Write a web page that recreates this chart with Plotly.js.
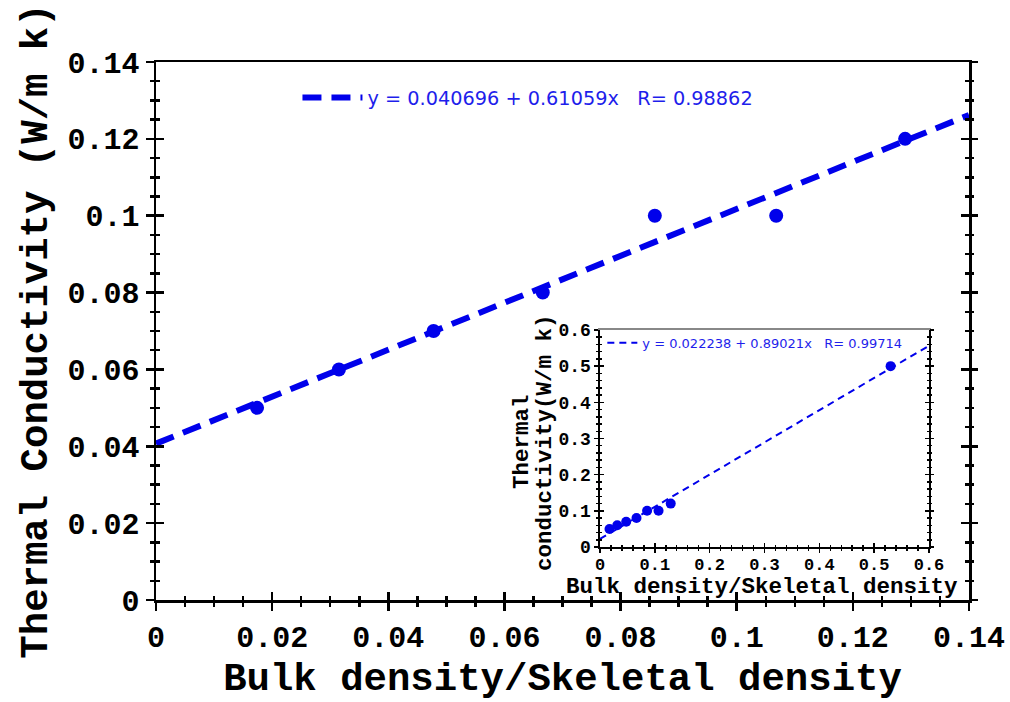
<!DOCTYPE html>
<html>
<head>
<meta charset="utf-8">
<script src="https://cdn.plot.ly/plotly-3.0.1.min.js"></script>
<style>html,body{margin:0;padding:0;background:#fff;}#chart{width:1010px;height:702px;}</style>
</head>
<body>
<div id="chart"></div>
<script>
// ---- Data ----
const density = [0.0174, 0.0315, 0.0478, 0.0666, 0.0859, 0.1068, 0.1290];
const conductivity = [0.05, 0.06, 0.07, 0.08, 0.10, 0.10, 0.12];
const insetDensity = [0.0174, 0.0315, 0.0478, 0.0666, 0.0859, 0.1068, 0.1290, 0.530];
const insetConductivity = [0.05, 0.06, 0.07, 0.08, 0.10, 0.10, 0.12, 0.50];
const fitMainX = [0, 0.14];
const fitMainY = [0.0407, 0.1262];
const fitInsetX = [0, 0.6];
const fitInsetY = [0.0222, 0.5564];
const fitMainLabel = 'y = 0.040696 + 0.61059x\u00a0\u00a0\u00a0R= 0.98862';
const fitInsetLabel = 'y = 0.022238 + 0.89021x\u00a0\u00a0\u00a0R= 0.99714';
// ticks
const mainXTicks = [0, 0.02, 0.04, 0.06, 0.08, 0.1, 0.12, 0.14];
const mainXLabels = ['0', '0.02', '0.04', '0.06', '0.08', '0.1', '0.12', '0.14'];
const mainYTicks = [0, 0.02, 0.04, 0.06, 0.08, 0.1, 0.12, 0.14];
const mainYLabels = ['0', '0.02', '0.04', '0.06', '0.08', '0.1', '0.12', '0.14'];
const insetXTicks = [0, 0.1, 0.2, 0.3, 0.4, 0.5, 0.6];
const insetXLabels = ['0', '0.1', '0.2', '0.3', '0.4', '0.5', '0.6'];
const insetYTicks = [0, 0.1, 0.2, 0.3, 0.4, 0.5, 0.6];
const insetYLabels = ['0', '0.1', '0.2', '0.3', '0.4', '0.5', '0.6'];
const mainXTitle = 'Bulk density/Skeletal density';
const mainYTitle = 'Thermal Conductivity (W/m k)';
const insetXTitle = 'Bulk density/Skeletal density';
const insetYTitleLines = ['Thermal', 'conductivity(W/m k)'];

const BLUE = 'rgb(0,0,235)';
const mono = 'Liberation Mono, Courier New, monospace';

const traces = [
  {x: fitMainX, y: fitMainY, mode: 'lines', name: fitMainLabel,
   line: {color: BLUE, width: 6, dash: '19px,10px'}, legend: 'legend', hoverinfo: 'skip'},
  {x: density, y: conductivity, mode: 'markers', showlegend: false,
   marker: {color: BLUE, size: 14}},
  {x: fitInsetX, y: fitInsetY, mode: 'lines', name: fitInsetLabel, xaxis: 'x2', yaxis: 'y2',
   line: {color: BLUE, width: 2, dash: '7px,5px'}, legend: 'legend2', hoverinfo: 'skip'},
  {x: insetDensity, y: insetConductivity, mode: 'markers', showlegend: false, xaxis: 'x2', yaxis: 'y2',
   marker: {color: BLUE, size: 10}},
  // empty traces to instantiate the overlay tick axes
  {x: [null], y: [null], xaxis: 'x3', yaxis: 'y3', showlegend: false, hoverinfo: 'skip'},
  {x: [null], y: [null], xaxis: 'x', yaxis: 'y4', showlegend: false, hoverinfo: 'skip'},
  {x: [null], y: [null], xaxis: 'x', yaxis: 'y5', showlegend: false, hoverinfo: 'skip'},
  {x: [null], y: [null], xaxis: 'x4', yaxis: 'y6', showlegend: false, hoverinfo: 'skip'},
  {x: [null], y: [null], xaxis: 'x2', yaxis: 'y7', showlegend: false, hoverinfo: 'skip'},
  {x: [null], y: [null], xaxis: 'x2', yaxis: 'y8', showlegend: false, hoverinfo: 'skip'},
  {x: [null], y: [null], xaxis: 'x6', yaxis: 'y2', showlegend: false, hoverinfo: 'skip'}
];

const mainTickFont = {family: mono, size: 30, weight: 'bold', color: 'black'};
const insetTickFont = {family: mono, size: 17, weight: 'bold', color: 'black'};
const insetTitleFont = {family: mono, size: 22.5, weight: 'bold', color: 'black'};

function tickAxis(base, dir, major, minor, dtickMinor, ranges, tv, extra) {
  return Object.assign({
    range: ranges, tickmode: 'array', tickvals: tv, showticklabels: false,
    ticks: dir, ticklen: major, tickwidth: base, tickcolor: 'black',
    minor: {dtick: dtickMinor, tick0: 0, ticks: dir, ticklen: minor, tickwidth: base, tickcolor: 'black', showgrid: false},
    showline: false, showgrid: false, zeroline: false, fixedrange: true
  }, extra);
}

const layout = {
  width: 1010, height: 702,
  margin: {l: 156, r: 41, t: 62, b: 102, pad: 0},
  paper_bgcolor: 'white', plot_bgcolor: 'white',
  showlegend: true,
  xaxis: {
    range: [0, 0.14], tickmode: 'array', tickvals: mainXTicks, ticktext: mainXLabels,
    ticks: 'outside', ticklen: 8, tickwidth: 2.5, tickcolor: 'black',
    minor: {dtick: 0.005, tick0: 0, ticks: 'outside', ticklen: 4, tickwidth: 2.5, tickcolor: 'black', showgrid: false},
    showline: true, linewidth: 2.5, linecolor: 'black', mirror: true,
    showgrid: false, zeroline: false, tickfont: mainTickFont,
    title: {text: mainXTitle, font: {family: mono, size: 39, weight: 'bold', color: 'black'}, standoff: 20}
  },
  yaxis: {
    range: [0, 0.14], tickmode: 'array', tickvals: mainYTicks, ticktext: mainYLabels,
    ticks: 'outside', ticklen: 8, tickwidth: 2.5, tickcolor: 'black',
    minor: {dtick: 0.005, tick0: 0, ticks: 'outside', ticklen: 4, tickwidth: 2.5, tickcolor: 'black', showgrid: false},
    showline: true, linewidth: 2.5, linecolor: 'black', mirror: true,
    showgrid: false, zeroline: false, tickfont: mainTickFont,
    title: {text: mainYTitle, font: {family: mono, size: 39, weight: 'bold', color: 'black'}, standoff: 8}
  },
  xaxis3: tickAxis(2.5, 'inside', 8, 4, 0.005, [0, 0.14], mainXTicks, {overlaying: 'x', anchor: 'y'}),
  yaxis3: tickAxis(2.5, 'inside', 8, 4, 0.005, [0, 0.14], mainYTicks, {overlaying: 'y', anchor: 'x', side: 'left'}),
  yaxis4: tickAxis(2.5, 'outside', 8, 4, 0.005, [0, 0.14], mainYTicks, {overlaying: 'y', anchor: 'x', side: 'right'}),
  yaxis5: tickAxis(2.5, 'inside', 8, 4, 0.005, [0, 0.14], mainYTicks, {overlaying: 'y', anchor: 'x', side: 'right'}),

  xaxis2: {
    domain: [0.5461, 0.9508], anchor: 'y2',
    range: [0, 0.6], tickmode: 'array', tickvals: insetXTicks, ticktext: insetXLabels,
    ticks: 'outside', ticklen: 4, tickwidth: 1.5, tickcolor: 'black',
    minor: {dtick: 0.02, tick0: 0, ticks: 'outside', ticklen: 2, tickwidth: 1.5, tickcolor: 'black', showgrid: false},
    showline: true, linewidth: 1.5, linecolor: 'black', mirror: false,
    showgrid: false, zeroline: false, tickfont: insetTickFont, ticklabelstandoff: -3
  },
  yaxis2: {
    domain: [0.0985, 0.5019], anchor: 'x2',
    range: [0, 0.6], tickmode: 'array', tickvals: insetYTicks, ticktext: insetYLabels,
    ticks: 'outside', ticklen: 4, tickwidth: 1.5, tickcolor: 'black',
    minor: {dtick: 0.02, tick0: 0, ticks: 'outside', ticklen: 2, tickwidth: 1.5, tickcolor: 'black', showgrid: false},
    showline: true, linewidth: 1.5, linecolor: 'black', mirror: true,
    showgrid: false, zeroline: false, tickfont: {family: mono, size: 18, weight: 'bold', color: 'black'}
  },
  xaxis4: tickAxis(1.5, 'inside', 4, 2, 0.02, [0, 0.6], insetXTicks, {overlaying: 'x2', anchor: 'y2'}),
  yaxis6: tickAxis(1.5, 'inside', 4, 2, 0.02, [0, 0.6], insetYTicks, {overlaying: 'y2', anchor: 'x2', side: 'left'}),
  yaxis7: tickAxis(1.5, 'outside', 4, 2, 0.02, [0, 0.6], insetYTicks, {overlaying: 'y2', anchor: 'x2', side: 'right'}),
  yaxis8: tickAxis(1.5, 'inside', 4, 2, 0.02, [0, 0.6], insetYTicks, {overlaying: 'y2', anchor: 'x2', side: 'right'}),
  xaxis6: {overlaying: 'x2', anchor: 'y2', side: 'top', range: [0, 0.6], showline: true, linecolor: '#888', linewidth: 1.5,
           ticks: '', showticklabels: false, showgrid: false, zeroline: false},

  annotations: [
    {text: insetXTitle, xref: 'paper', yref: 'paper', x: 0.7454, y: 0.0242, xanchor: 'center', yanchor: 'middle',
     showarrow: false, font: insetTitleFont},
    {text: insetYTitleLines[0], xref: 'paper', yref: 'paper', x: 0.4502, y: 0.2937, xanchor: 'center', yanchor: 'middle',
     textangle: -90, showarrow: false, font: insetTitleFont},
    {text: insetYTitleLines[1], xref: 'paper', yref: 'paper', x: 0.4785, y: 0.2918, xanchor: 'center', yanchor: 'middle',
     textangle: -90, showarrow: false, font: insetTitleFont}
  ],

  legend: {x: 0.174, y: 0.933, xanchor: 'left', yanchor: 'middle', bgcolor: 'rgba(0,0,0,0)',
           font: {family: 'DejaVu Sans', size: 19.3, color: 'rgb(30,30,235)'}, itemwidth: 60, borderwidth: 0},
  legend2: {x: 0.549, y: 0.478, xanchor: 'left', yanchor: 'middle', bgcolor: 'rgba(0,0,0,0)',
           font: {family: 'DejaVu Sans', size: 13, color: 'rgb(30,30,235)'}, itemwidth: 30, borderwidth: 0}
};

Plotly.newPlot('chart', traces, layout, {staticPlot: true, displayModeBar: false});
</script>
</body>
</html>
